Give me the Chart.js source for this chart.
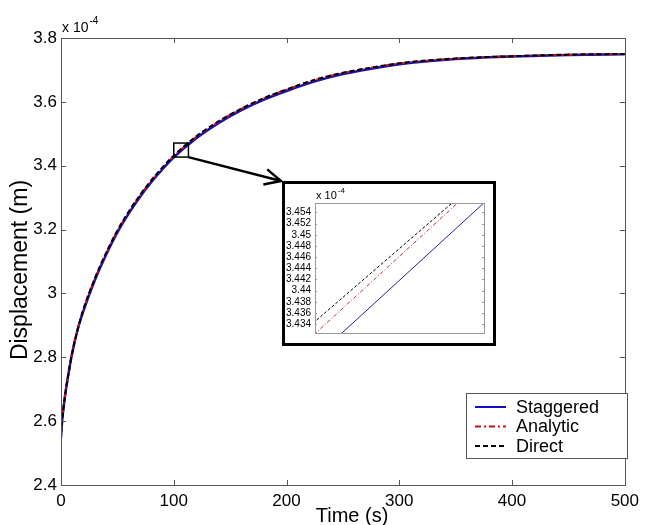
<!DOCTYPE html>
<html>
<head>
<meta charset="utf-8">
<script src="https://cdn.jsdelivr.net/npm/chart.js@4.4.0/dist/chart.umd.min.js"></script>
<style>
  html, body { margin: 0; padding: 0; background: #fff; }
  #wrap { position: relative; width: 645px; height: 525px; }
  #main { position: absolute; left: 0; top: 0; }
  #insetBox { position: absolute; left: 282px; top: 181px; width: 214px; height: 165px;
              border: 3px solid #000; box-sizing: border-box; background: #fff; }
  #inset { display: block; }
</style>
</head>
<body>
<div id="wrap">
  <canvas id="main" width="645" height="525"></canvas>
  <div id="insetBox"><canvas id="inset" width="208" height="159"></canvas></div>
</div>
<script>
'use strict';

// displacement values are in units of 1e-4 m (axis shows "x 10^-4")
const timeS = [0, 1, 2, 4, 6, 10, 15, 20, 30, 40, 50, 60, 70, 80, 90, 100, 120, 140, 160, 180, 200, 225, 250, 275, 300, 350, 400, 450, 500];
const staggered = [2.55, 2.60, 2.635, 2.69, 2.735, 2.815, 2.89, 2.946, 3.041, 3.121, 3.191, 3.250, 3.302, 3.348, 3.389, 3.426, 3.486, 3.534, 3.574, 3.607, 3.634, 3.664, 3.687, 3.704, 3.718, 3.734, 3.742, 3.747, 3.749];
const analytic  = [2.54, 2.60, 2.635, 2.69, 2.735, 2.815, 2.89, 2.950, 3.045, 3.125, 3.195, 3.254, 3.306, 3.352, 3.393, 3.430, 3.490, 3.538, 3.578, 3.611, 3.638, 3.668, 3.690, 3.707, 3.720, 3.735, 3.743, 3.747, 3.750];
const direct    = [2.56, 2.60, 2.635, 2.69, 2.735, 2.815, 2.89, 2.952, 3.047, 3.127, 3.197, 3.256, 3.308, 3.354, 3.395, 3.432, 3.492, 3.540, 3.579, 3.612, 3.639, 3.669, 3.691, 3.707, 3.721, 3.736, 3.743, 3.748, 3.750];

const xTicks = [0, 100, 200, 300, 400, 500];
const yTicks = [2.4, 2.6, 2.8, 3.0, 3.2, 3.4, 3.6, 3.8];
const yTickLabels = ['2.4', '2.6', '2.8', '3', '3.2', '3.4', '3.6', '3.8'];

// zoomed window
const zoomT = [100, 113];
const zoomV = [3.427, 3.471];
const insetT = [99, 109];
const insetStaggered = [3.4245, 3.4592];
const insetAnalytic  = [3.4288, 3.4635];
const insetDirect    = [3.4312, 3.4639];
const insetYTicks = [3.434, 3.436, 3.438, 3.440, 3.442, 3.444, 3.446, 3.448, 3.450, 3.452, 3.454];
const insetYTickLabels = ['3.434', '3.436', '3.438', '3.44', '3.442', '3.444', '3.446', '3.448', '3.45', '3.452', '3.454'];

const FONT = "'Liberation Sans', Arial, sans-serif";
const AXIS_COLOR = '#555';

function pts(xs, ys) {
  return xs.map(function(x, i) { return { x: x, y: ys[i] }; });
}

// inward ticks on all four sides + box, like matlab "box on"
function frameTicks(len, color) {
  return {
    id: 'frameTicks',
    afterDatasetsDraw: function(chart) {
      const a = chart.chartArea, ctx = chart.ctx;
      const xs = chart.scales.x, ys = chart.scales.y;
      ctx.save();
      ctx.strokeStyle = color;
      ctx.lineWidth = 1;
      ctx.strokeRect(Math.round(a.left) + 0.5, Math.round(a.top) + 0.5, Math.round(a.right - a.left), Math.round(a.bottom - a.top));
      ctx.beginPath();
      if (xs.options.display) {
        xs.ticks.forEach(function(t) {
          const px = Math.round(xs.getPixelForValue(t.value)) + 0.5;
          ctx.moveTo(px, a.bottom); ctx.lineTo(px, a.bottom - len);
          ctx.moveTo(px, a.top); ctx.lineTo(px, a.top + len);
        });
      }
      ys.ticks.forEach(function(t) {
        const py = Math.round(ys.getPixelForValue(t.value)) + 0.5;
        ctx.moveTo(a.left, py); ctx.lineTo(a.left + len, py);
        ctx.moveTo(a.right, py); ctx.lineTo(a.right - len, py);
      });
      ctx.stroke();
      ctx.restore();
    }
  };
}

function drawExponent(ctx, x, y, size) {
  ctx.save();
  ctx.fillStyle = '#000';
  ctx.textBaseline = 'alphabetic';
  ctx.textAlign = 'left';
  ctx.font = size + 'px ' + FONT;
  ctx.fillText('x 10', x, y);
  const w = ctx.measureText('x 10').width;
  ctx.font = Math.round(size * 0.72) + 'px ' + FONT;
  ctx.fillText('-4', x + w + 1, y - size * 0.55);
  ctx.restore();
}

const mainDecor = {
  id: 'mainDecor',
  afterDraw: function(chart) {
    const ctx = chart.ctx, a = chart.chartArea;
    const xs = chart.scales.x, ys = chart.scales.y;
    ctx.save();
    // axis titles
    ctx.fillStyle = '#000';
    ctx.font = '20px ' + FONT;
    ctx.textAlign = 'center';
    ctx.textBaseline = 'alphabetic';
    ctx.fillText('Time (s)', 352, 522);
    ctx.translate(27, 270);
    ctx.rotate(-Math.PI / 2);
    ctx.font = '23px ' + FONT;
    ctx.fillText('Displacement (m)', 0, 0);
    ctx.restore();

    drawExponent(ctx, a.left + 1, 32, 14);

    // zoom box and arrow to the inset
    const bx0 = xs.getPixelForValue(zoomT[0]), bx1 = xs.getPixelForValue(zoomT[1]);
    const by0 = ys.getPixelForValue(zoomV[1]), by1 = ys.getPixelForValue(zoomV[0]);
    ctx.save();
    ctx.strokeStyle = '#000';
    ctx.lineWidth = 1.5;
    ctx.strokeRect(bx0, by0, bx1 - bx0, by1 - by0);
    const tipX = 281, tipY = 181;
    ctx.lineWidth = 2.5;
    ctx.beginPath();
    ctx.moveTo(bx1, by1);
    ctx.lineTo(tipX, tipY);
    const ang = Math.atan2(tipY - by1, tipX - bx1);
    ctx.moveTo(tipX - 18 * Math.cos(ang - 0.45), tipY - 18 * Math.sin(ang - 0.45));
    ctx.lineTo(tipX, tipY);
    ctx.lineTo(tipX - 18 * Math.cos(ang + 0.45), tipY - 18 * Math.sin(ang + 0.45));
    ctx.stroke();
    ctx.restore();

    // legend box
    const lx = 466, ly = 393, lw = 161, lh = 65;
    ctx.save();
    ctx.fillStyle = '#fff';
    ctx.fillRect(lx, ly, lw, lh);
    ctx.strokeStyle = AXIS_COLOR;
    ctx.lineWidth = 1;
    ctx.strokeRect(lx + 0.5, ly + 0.5, lw, lh);
    ctx.font = '18px ' + FONT;
    ctx.textBaseline = 'middle';
    ctx.textAlign = 'left';
    [0, 1, 2].forEach(function(i) {
      const ds = chart.data.datasets[i];
      const cy = ly + 14 + i * 19.5;
      ctx.strokeStyle = ds.borderColor;
      ctx.lineWidth = 2;
      ctx.setLineDash(ds.borderDash || []);
      ctx.beginPath();
      ctx.moveTo(lx + 9, cy); ctx.lineTo(lx + 40, cy);
      ctx.stroke();
      ctx.setLineDash([]);
      ctx.fillStyle = '#000';
      ctx.fillText(ds.label, lx + 50, cy + 1);
    });
    ctx.restore();
  }
};

const chartMain = new Chart(document.getElementById('main'), {
  type: 'line',
  data: {
    datasets: [
      { label: 'Staggered', data: pts(timeS, staggered), borderColor: '#1010c0', borderWidth: 2.5, order: 3 },
      { label: 'Analytic', data: pts(timeS, analytic), borderColor: '#d01010', borderWidth: 2, borderDash: [6, 3, 2, 3], order: 2 },
      { label: 'Direct', data: pts(timeS, direct), borderColor: '#000000', borderWidth: 2, borderDash: [5, 3], order: 1 }
    ]
  },
  options: {
    responsive: false,
    animation: false,
    layout: { padding: { top: 38, right: 17, left: 0, bottom: 0 } },
    elements: { point: { radius: 0 }, line: { cubicInterpolationMode: 'monotone' } },
    plugins: { legend: { display: false }, tooltip: { enabled: false } },
    scales: {
      x: {
        type: 'linear', min: 0, max: 500,
        grid: { display: false, drawTicks: false }, border: { display: false },
        afterFit: function(s) { s.height = 40; },
        afterBuildTicks: function(s) { s.ticks = xTicks.map(function(v) { return { value: v }; }); },
        ticks: { font: { family: FONT, size: 17 }, color: '#000', padding: 6, maxRotation: 0, autoSkip: false,
                 callback: function(v) { return String(v); } }
      },
      y: {
        type: 'linear', min: 2.4, max: 3.8,
        grid: { display: false, drawTicks: false }, border: { display: false },
        afterFit: function(s) { s.width = 61; },
        afterBuildTicks: function(s) { s.ticks = yTicks.map(function(v) { return { value: v }; }); },
        ticks: { font: { family: FONT, size: 17 }, color: '#000', padding: 4, autoSkip: false,
                 callback: function(v, i) { return yTickLabels[i]; } }
      }
    }
  },
  plugins: [frameTicks(5, AXIS_COLOR), mainDecor]
});

const insetDecor = {
  id: 'insetDecor',
  afterDraw: function(chart) {
    drawExponent(chart.ctx, chart.chartArea.left + 1, 15, 11);
  }
};

const chartInset = new Chart(document.getElementById('inset'), {
  type: 'line',
  data: {
    datasets: [
      { label: 'Staggered', data: pts(insetT, insetStaggered), borderColor: '#2020a0', borderWidth: 1, order: 3 },
      { label: 'Analytic', data: pts(insetT, insetAnalytic), borderColor: '#c03030', borderWidth: 1, borderDash: [4, 2, 1, 2], order: 2 },
      { label: 'Direct', data: pts(insetT, insetDirect), borderColor: '#000000', borderWidth: 1, borderDash: [3, 2], order: 1 }
    ]
  },
  options: {
    responsive: false,
    animation: false,
    layout: { padding: { top: 19, right: 9, left: 0, bottom: 6 } },
    elements: { point: { radius: 0 } },
    plugins: { legend: { display: false }, tooltip: { enabled: false } },
    scales: {
      x: { type: 'linear', min: 100, max: 108, display: false },
      y: {
        type: 'linear', min: 3.4324, max: 3.4557,
        grid: { display: false, drawTicks: false }, border: { display: false },
        afterFit: function(s) { s.width = 30; },
        afterBuildTicks: function(s) { s.ticks = insetYTicks.map(function(v) { return { value: v }; }); },
        ticks: { font: { family: FONT, size: 10 }, color: '#000', padding: 4, autoSkip: false,
                 callback: function(v, i) { return insetYTickLabels[i]; } }
      }
    }
  },
  plugins: [frameTicks(2, '#999'), insetDecor]
});
</script>
</body>
</html>
